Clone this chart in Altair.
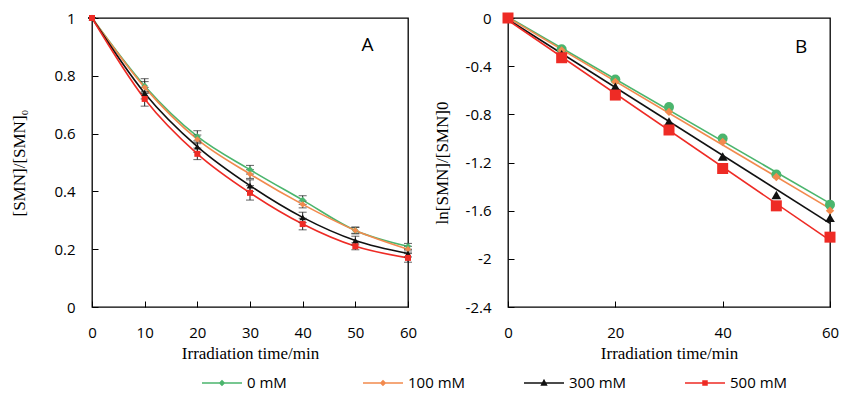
import altair as alt
import pandas as pd

times = [0, 10, 20, 30, 40, 50, 60]
series = ["0 mM", "100 mM", "300 mM", "500 mM"]
colors = ["#4BB56D", "#F28A4E", "#111111", "#EE2B25"]

# Panel A: [SMN]/[SMN]0
a_vals = {
    "0 mM":   [1.0, 0.765, 0.590, 0.475, 0.370, 0.265, 0.210],
    "100 mM": [1.0, 0.760, 0.580, 0.460, 0.355, 0.265, 0.200],
    "300 mM": [1.0, 0.740, 0.555, 0.420, 0.310, 0.230, 0.185],
    "500 mM": [1.0, 0.720, 0.530, 0.395, 0.287, 0.210, 0.170],
}
a_err = {
    "0 mM":   [0, 0.025, 0.020, 0.015, 0.015, 0.012, 0.010],
    "100 mM": [0, 0.020, 0.015, 0.015, 0.012, 0.010, 0.010],
    "300 mM": [0, 0.020, 0.020, 0.020, 0.018, 0.015, 0.012],
    "500 mM": [0, 0.025, 0.020, 0.025, 0.020, 0.012, 0.015],
}
# Panel B: ln([SMN]/[SMN]0)
b_vals = {
    "0 mM":   [0.0, -0.26, -0.51, -0.74, -1.00, -1.30, -1.55],
    "100 mM": [0.0, -0.27, -0.53, -0.78, -1.03, -1.32, -1.60],
    "300 mM": [0.0, -0.30, -0.57, -0.86, -1.15, -1.47, -1.66],
    "500 mM": [0.0, -0.33, -0.64, -0.93, -1.25, -1.56, -1.82],
}
a_shapes = ["diamond", "diamond", "triangle-up", "square"]
a_sizes = [45, 40, 45, 36]
b_shapes = ["circle", "diamond", "triangle-up", "square"]
b_sizes = [100, 70, 95, 121]
# legend glyphs: a 40px line with a small marker in its middle (unit = 10px)
legend_paths = [
    "M-1,0H3M1,-0.22L1.22,0L1,0.22L0.78,0Z",
    "M-1,0H3M1,-0.22L1.22,0L1,0.22L0.78,0Z",
    "M-1,0H3M1,-0.26L1.24,0.2L0.76,0.2Z",
    "M-1,0H3M0.8,-0.2H1.2V0.2H0.8Z",
]
panel_labels = ["A", "B"]
label_x = [52.3, 54.6]
label_y = [0.907, -0.24]

rowsA, rowsB = [], []
for s in series:
    for t, v, e in zip(times, a_vals[s], a_err[s]):
        rowsA.append({"t": t, "v": v, "lo": v - e, "hi": v + e, "series": s})
    for t, v in zip(times, b_vals[s]):
        rowsB.append({"t": t, "v": v, "series": s})
dfA = pd.DataFrame(rowsA)
dfB = pd.DataFrame(rowsB)

LABEL_FONT = "Open Sans"
TITLE_FONT = "Liberation Serif"
X_TITLE = "Irradiation time/min"
YA_TITLE = "[SMN]/[SMN]\u2080"
YB_TITLE = "ln[SMN]/[SMN]0"

def axis(values, title_pad, label_pad):
    return alt.Axis(values=values, offset=-6, tickSize=6, domain=False, grid=False,
                    labelPadding=label_pad, titlePadding=title_pad, labelFlush=False,
                    labelOverlap=False, tickColor="black", labelColor="black",
                    titleColor="black", labelFont=LABEL_FONT, labelFontSize=15,
                    titleFont=TITLE_FONT, titleFontSize=17, titleFontWeight="normal",
                    labelExpr="replace(format(datum.value, '~g'), '\u2212', '-')")

scaleX = alt.Scale(domain=[0, 60], nice=False)
scaleAy = alt.Scale(domain=[0, 1], nice=False)
scaleBy = alt.Scale(domain=[-2.4, 0], nice=False)
axAx = axis([0, 10, 20, 30, 40, 50, 60], 5, 18)
axAy = axis([0, 0.2, 0.4, 0.6, 0.8, 1], 25, 17)
axBx = axis([0, 20, 40, 60], 5, 18)
axBy = axis([0, -0.4, -0.8, -1.2, -1.6, -2.0, -2.4], 14, 17)

def xa(f):
    return alt.X(f, scale=scaleX, axis=axAx, title=X_TITLE)
def ya(f):
    return alt.Y(f, scale=scaleAy, axis=axAy, title=YA_TITLE)
def xb(f):
    return alt.X(f, scale=scaleX, axis=axBx, title=X_TITLE)
def yb(f):
    return alt.Y(f, scale=scaleBy, axis=axBy, title=YB_TITLE)

layersA = []
for i, s in enumerate(series):
    base = alt.Chart(dfA).transform_filter(alt.datum.series == s)
    layersA.append(base.mark_line(color=colors[i], strokeWidth=1.6, interpolate="monotone").encode(
        x=xa("t:Q"), y=ya("v:Q")))
for i, s in enumerate(series):
    base = alt.Chart(dfA).transform_filter(alt.datum.series == s)
    layersA.append(base.mark_rule(color="#222222", strokeWidth=1).encode(
        x=xa("t:Q"), y=ya("lo:Q"), y2="hi:Q"))
    layersA.append(base.mark_tick(color="#222222", size=8, thickness=1, orient="horizontal").encode(
        x=xa("t:Q"), y=ya("lo:Q")))
    layersA.append(base.mark_tick(color="#222222", size=8, thickness=1, orient="horizontal").encode(
        x=xa("t:Q"), y=ya("hi:Q")))
for i, s in enumerate(series):
    base = alt.Chart(dfA).transform_filter(alt.datum.series == s)
    layersA.append(base.mark_point(filled=True, opacity=1, color=colors[i], shape=a_shapes[i],
                                   size=a_sizes[i]).encode(x=xa("t:Q"), y=ya("v:Q")))

lab = pd.DataFrame({"label": panel_labels, "x": label_x, "y": label_y})
layersA.append(alt.Chart(lab).transform_filter(alt.datum.label == "A").mark_text(
    font=LABEL_FONT, fontSize=19, color="black").encode(x=xa("x:Q"), y=ya("y:Q"), text="label:N"))

panelA = alt.layer(*layersA).properties(width=316, height=289)

layersB = []
for i, s in enumerate(series):
    base = alt.Chart(dfB).transform_filter(alt.datum.series == s)
    layersB.append(base.transform_regression("t", "v", extent=[0, 60]).mark_line(
        color=colors[i], strokeWidth=1.6).encode(x=xb("t:Q"), y=yb("v:Q")))
for i, s in enumerate(series):
    base = alt.Chart(dfB).transform_filter(alt.datum.series == s)
    layersB.append(base.mark_point(filled=True, opacity=1, color=colors[i], shape=b_shapes[i],
                                   size=b_sizes[i]).encode(x=xb("t:Q"), y=yb("v:Q")))
layersB.append(alt.Chart(lab).transform_filter(alt.datum.label == "B").mark_text(
    font=LABEL_FONT, fontSize=19, color="black").encode(x=xb("x:Q"), y=yb("y:Q"), text="label:N"))

leg = alt.Legend(orient="none", legendX=109, legendY=354, direction="horizontal", columns=4,
                 gridAlign="all", columnPadding=55, symbolSize=400, symbolStrokeWidth=1.5,
                 labelFont=LABEL_FONT, labelFontSize=15, labelColor="black", title=None,
                 labelOffset=24, padding=0)
layersB.append(alt.Chart(dfB).transform_filter("false").mark_point(filled=True, opacity=1).encode(
    fill=alt.Fill("series:N", scale=alt.Scale(domain=series, range=colors), legend=leg),
    stroke=alt.Stroke("series:N", scale=alt.Scale(domain=series, range=colors), legend=leg),
    shape=alt.Shape("series:N", scale=alt.Scale(domain=series, range=legend_paths), legend=leg),
))

panelB = alt.layer(*layersB).properties(width=322, height=289)

chart = alt.hconcat(panelA, panelB, spacing=14).properties(
    padding={"left": 2, "top": 2, "right": 0, "bottom": 0}
).configure(background="white").configure_view(stroke="black", strokeWidth=1.3)

chart.save("out.html", embed_options={"renderer": "svg", "actions": False})
